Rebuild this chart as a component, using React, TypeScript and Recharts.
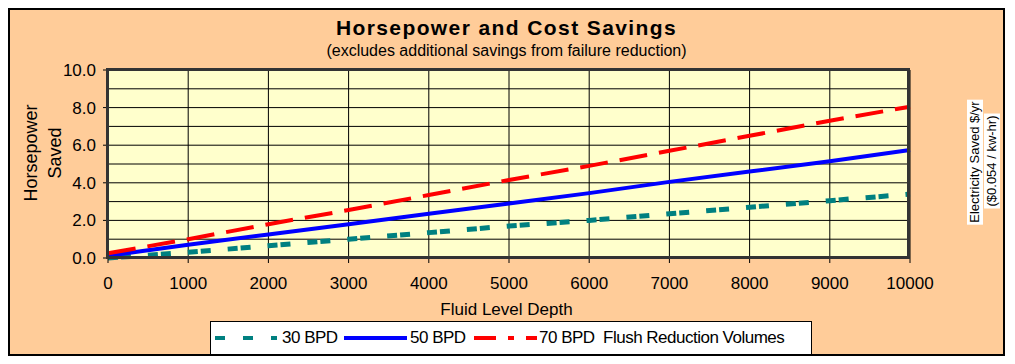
import { CartesianGrid, Line, LineChart, XAxis, YAxis } from "recharts"

// values (horsepower saved)
const depths = [0, 1000, 2000, 3000, 4000, 5000, 6000, 7000, 8000, 9000, 10000]
const bpd30 = [0.0, 0.3, 0.65, 1.0, 1.35, 1.7, 2.0, 2.35, 2.7, 3.05, 3.4]
const bpd50 = [0.12, 0.7, 1.25, 1.8, 2.35, 2.9, 3.45, 4.05, 4.6, 5.15, 5.75]
const bpd70 = [0.25, 1.0, 1.8, 2.55, 3.35, 4.15, 4.9, 5.7, 6.5, 7.3, 8.05]

const xTicks = [0, 1000, 2000, 3000, 4000, 5000, 6000, 7000, 8000, 9000, 10000]
const leftTicks = [0, 2, 4, 6, 8, 10]
const leftGrid = [0, 1, 2, 3, 4, 5, 6, 7, 8, 9, 10]
const rightTicks = [0, 700, 1400, 2100, 2800, 3500]

const data = depths.map((d, i) => ({
  depth: d,
  b30: bpd30[i],
  b50: bpd50[i],
  b70: bpd70[i],
}))

const font = "'Liberation Sans', Arial, sans-serif"
const narrow = "'Liberation Sans Narrow', 'Arial Narrow', 'Liberation Sans', sans-serif"
const tickStyle = { fontSize: 17, fill: "#000", fontFamily: font }

const rotated = (size: number, family: string, extra: object = {}) => ({
  position: "absolute" as const,
  transform: "translate(-50%,-50%) rotate(-90deg)",
  whiteSpace: "nowrap" as const,
  fontSize: size,
  fontFamily: family,
  ...extra,
})

export default function App() {
  return (
    <div
      style={{
        position: "relative",
        width: 997,
        height: 348,
        boxSizing: "border-box",
        border: "2px solid #000",
        background: "#FFCC99",
        fontFamily: font,
      }}
    >
      <div style={{ position: "absolute", left: 0, width: 993, top: 6, textAlign: "center", fontSize: 21, fontWeight: "bold", letterSpacing: 1.4 }}>
        Horsepower and Cost Savings
      </div>
      <div style={{ position: "absolute", left: 0, width: 993, top: 32, textAlign: "center", fontSize: 16 }}>
        (excludes additional savings from failure reduction)
      </div>

      <LineChart
        width={993}
        height={344}
        data={data}
        margin={{ top: 60, right: 38, bottom: 66, left: 38 }}
      >
        <CartesianGrid
          stroke="#000"
          strokeWidth={1}
          fill="#FFFFCC"
          fillOpacity={1}
          horizontalValues={leftGrid}
          verticalValues={xTicks}
          yAxisId="left"
        />
        <XAxis
          dataKey="depth"
          type="number"
          domain={[0, 10000]}
          ticks={xTicks}
          tick={tickStyle}
          tickLine={{ stroke: "#000" }}
          tickSize={5}
          tickMargin={14}
          axisLine={false}
          height={30}
          interval={0}
        />
        <YAxis
          yAxisId="left"
          type="number"
          domain={[0, 10]}
          ticks={leftTicks}
          tickFormatter={(v) => Number(v).toFixed(1)}
          tick={tickStyle}
          tickLine={{ stroke: "#000" }}
          tickSize={5}
          tickMargin={7}
          axisLine={false}
          width={60}
          interval={0}
        />
        <YAxis
          yAxisId="right"
          orientation="right"
          type="number"
          domain={[0, 3500]}
          ticks={rightTicks}
          tick={tickStyle}
          tickLine={{ stroke: "#000" }}
          tickSize={5}
          tickMargin={6}
          axisLine={false}
          width={55}
          interval={0}
        />
        <Line yAxisId="left" type="linear" dataKey="b30" stroke="#008080" strokeWidth={5} strokeDasharray="10 3 10 17" dot={false} isAnimationActive={false} />
        <Line yAxisId="left" type="linear" dataKey="b50" stroke="#0000FF" strokeWidth={4} dot={false} isAnimationActive={false} />
        <Line yAxisId="left" type="linear" dataKey="b70" stroke="#FF0000" strokeWidth={4} strokeDasharray="28 12" dot={false} isAnimationActive={false} />
      </LineChart>

      {/* plot area frame */}
      <div style={{ position: "absolute", left: 96, top: 58, width: 804, height: 191, border: "3px solid #333", boxSizing: "border-box", pointerEvents: "none" }} />

      {/* axis titles */}
      <div style={{ position: "absolute", left: 33, top: 143, width: 0, height: 0 }}>
        <div style={rotated(18, font, { textAlign: "center", lineHeight: "24px" })}>
          Horsepower<br />Saved
        </div>
      </div>
      <div style={{ position: "absolute", left: 0, width: 993, top: 290, textAlign: "center", fontSize: 17 }}>
        Fluid Level Depth
      </div>
      <div style={{ position: "absolute", left: 965, top: 152, width: 0, height: 0 }}>
        <div style={rotated(13, narrow, { background: "#fff", padding: "0 2px", lineHeight: "16px" })}>
          Electricity Saved $/yr
        </div>
      </div>
      <div style={{ position: "absolute", left: 982, top: 151, width: 0, height: 0 }}>
        <div style={rotated(13, narrow, { background: "#fff", padding: "0 2px", lineHeight: "16px" })}>
          ($0.054 / kw-hr)
        </div>
      </div>

      {/* legend */}
      <div
        style={{
          position: "absolute",
          left: 200,
          top: 311,
          width: 602,
          height: 34,
          boxSizing: "border-box",
          border: "1px solid #000",
          background: "#fff",
          fontSize: 17,
          letterSpacing: -0.5,
          whiteSpace: "nowrap",
          lineHeight: "32px",
        }}
      >
        <svg width={62} height={10} style={{ position: "absolute", left: 4, top: 11 }}>
          <line x1={0} y1={5} x2={62} y2={5} stroke="#008080" strokeWidth={4} strokeDasharray="10 18" />
        </svg>
        <span style={{ position: "absolute", left: 71, top: 0 }}>30 BPD</span>
        <svg width={63} height={10} style={{ position: "absolute", left: 133, top: 11 }}>
          <line x1={0} y1={5} x2={63} y2={5} stroke="#0000FF" strokeWidth={4} />
        </svg>
        <span style={{ position: "absolute", left: 199, top: 0 }}>50 BPD</span>
        <svg width={63} height={10} style={{ position: "absolute", left: 263, top: 11 }}>
          <line x1={0} y1={5} x2={63} y2={5} stroke="#FF0000" strokeWidth={4} strokeDasharray="22 12 6 12" />
        </svg>
        <span style={{ position: "absolute", left: 328, top: 0 }}>70 BPD&nbsp;&nbsp;Flush Reduction Volumes</span>
      </div>
    </div>
  )
}
